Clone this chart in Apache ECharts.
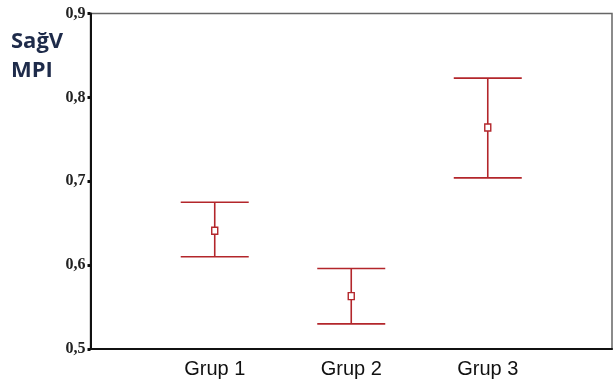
<!DOCTYPE html>
<html><head><meta charset="utf-8">
<script src="https://cdn.jsdelivr.net/npm/echarts@6/dist/echarts.min.js"></script>
<style>html,body{margin:0;padding:0;background:#fff}#c{width:614px;height:384px}</style>
</head><body><div id="c"></div>
<script>
var categories = ['Grup 1', 'Grup 2', 'Grup 3'];
var means = [0.641, 0.563, 0.764];
var lower = [0.610, 0.530, 0.704];
var upper = [0.675, 0.596, 0.823];
var yTitle = ['SağV', 'MPI'];

var chart = echarts.init(document.getElementById('c'));
var data = categories.map(function (c, i) { return [i + 1, means[i], lower[i], upper[i]]; });
var red = '#b3262b';
var titleFont = 'bold 22px "Open Sans", sans-serif';
chart.setOption({
  animation: false,
  grid: { left: 90.5, top: 13.5, right: 2, bottom: 35, show: true, borderColor: '#666', borderWidth: 1.5 },
  graphic: [
    { type: 'text', x: 11, y: 42, style: { text: yTitle[0], font: titleFont, fill: '#1e2b4a', verticalAlign: 'middle' } },
    { type: 'text', x: 11, y: 71, style: { text: yTitle[1], font: titleFont, fill: '#1e2b4a', verticalAlign: 'middle' } }
  ],
  xAxis: {
    type: 'value', min: 0.09, max: 3.91,
    splitLine: { show: false },
    axisLine: { show: true, onZero: false, lineStyle: { color: '#111', width: 2 } },
    axisTick: { show: false },
    axisLabel: {
      customValues: [1, 2, 3],
      formatter: function (v) { return categories[Math.round(v) - 1] || ''; },
      fontFamily: 'Liberation Sans, Arial, sans-serif', fontSize: 20, color: '#111', margin: 10
    }
  },
  yAxis: {
    type: 'value', min: 0.5, max: 0.9, interval: 0.1,
    splitLine: { show: false },
    axisLine: { show: true, lineStyle: { color: '#111', width: 2 } },
    axisTick: { show: true, length: 3, lineStyle: { color: '#111', width: 3 } },
    axisLabel: {
      formatter: function (v) { return v.toFixed(1).replace('.', ','); },
      fontFamily: 'Liberation Serif, serif', fontWeight: 'bold', fontSize: 16, color: '#222', margin: 5
    }
  },
  series: [{
    type: 'custom',
    data: data,
    renderItem: function (params, api) {
      var x = api.value(0);
      var m = api.coord([x, api.value(1)]);
      var lo = api.coord([x, api.value(2)]);
      var hi = api.coord([x, api.value(3)]);
      var hw = 34;
      var st = { stroke: red, lineWidth: 1.6 };
      return {
        type: 'group',
        children: [
          { type: 'line', shape: { x1: lo[0], y1: lo[1], x2: hi[0], y2: hi[1] }, style: st },
          { type: 'line', shape: { x1: hi[0] - hw, y1: hi[1], x2: hi[0] + hw, y2: hi[1] }, style: st },
          { type: 'line', shape: { x1: lo[0] - hw, y1: lo[1], x2: lo[0] + hw, y2: lo[1] }, style: st },
          { type: 'rect', shape: { x: m[0] - 3, y: m[1] - 3.5, width: 6, height: 7 }, style: { fill: '#fff', stroke: red, lineWidth: 1.4 } }
        ]
      };
    }
  }]
});
</script></body></html>
